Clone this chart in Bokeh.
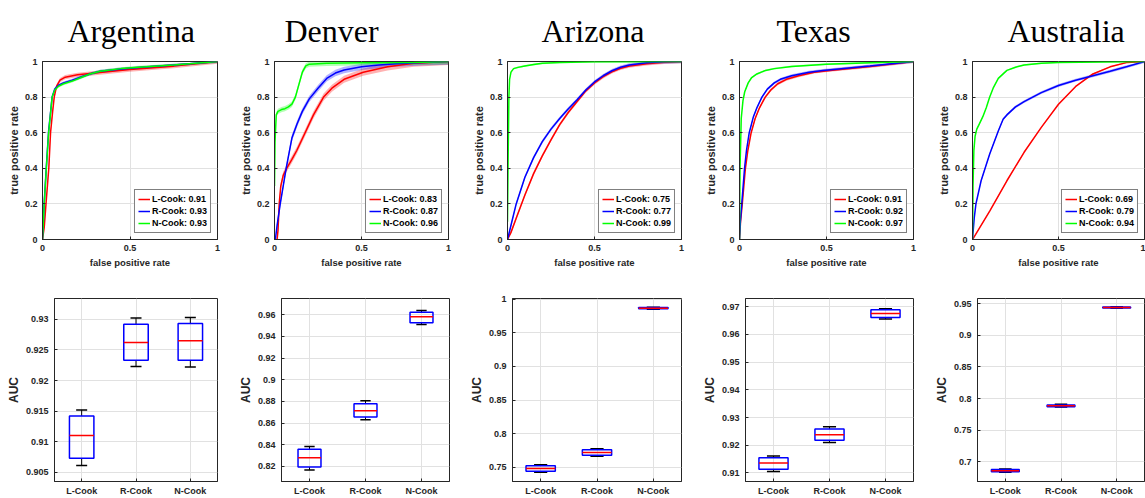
import numpy as np
from bokeh.plotting import figure
from bokeh.layouts import row, column
from bokeh.models import Range1d, FixedTicker, Legend, LegendItem, Title
from bokeh.embed import file_html
from bokeh.resources import INLINE

# ---------------- data ----------------
datasets = ["Argentina", "Denver", "Arizona", "Texas", "Australia"]
methods = ["L-Cook", "R-Cook", "N-Cook"]
legend_auc = {
    "Argentina": [0.91, 0.93, 0.93],
    "Denver": [0.83, 0.87, 0.96],
    "Arizona": [0.75, 0.77, 0.99],
    "Texas": [0.91, 0.92, 0.97],
    "Australia": [0.69, 0.79, 0.94],
}

# ROC curves (mean) : false positive rate / true positive rate
argentina_l_fpr = [0, 0.01, 0.02, 0.036, 0.046, 0.058, 0.067, 0.08, 0.1, 0.13, 0.2, 0.3, 0.5, 0.75, 1]
argentina_l_tpr = [0, 0.07, 0.2, 0.4, 0.6, 0.72, 0.8, 0.86, 0.895, 0.912, 0.925, 0.935, 0.955, 0.974, 1]
argentina_r_fpr = [0, 0.005, 0.01, 0.022, 0.035, 0.055, 0.07, 0.09, 0.12, 0.17, 0.22, 0.27, 0.33, 0.45, 0.55, 0.75, 1]
argentina_r_tpr = [0, 0.1, 0.21, 0.41, 0.61, 0.8, 0.845, 0.865, 0.88, 0.895, 0.913, 0.93, 0.945, 0.958, 0.966, 0.98, 1]
argentina_n_fpr = [0, 0.005, 0.01, 0.022, 0.035, 0.055, 0.07, 0.09, 0.12, 0.17, 0.22, 0.27, 0.33, 0.45, 0.55, 0.75, 1]
argentina_n_tpr = [0, 0.1, 0.2, 0.4, 0.6, 0.8, 0.84, 0.86, 0.875, 0.89, 0.91, 0.93, 0.945, 0.96, 0.968, 0.98, 1]

denver_l_fpr = [0.015, 0.02, 0.027, 0.036, 0.05, 0.07, 0.1, 0.128, 0.176, 0.224, 0.282, 0.33, 0.4, 0.51, 0.65, 0.8, 1]
denver_l_tpr = [0, 0.05, 0.2, 0.3, 0.36, 0.4, 0.45, 0.5, 0.6, 0.7, 0.8, 0.85, 0.9, 0.94, 0.97, 0.99, 1]
denver_r_fpr = [0.005, 0.015, 0.033, 0.05, 0.067, 0.1, 0.13, 0.16, 0.2, 0.25, 0.3, 0.35, 0.4, 0.5, 0.6, 0.7, 0.85, 1]
denver_r_tpr = [0, 0.08, 0.2, 0.3, 0.4, 0.57, 0.65, 0.72, 0.79, 0.85, 0.905, 0.935, 0.952, 0.97, 0.98, 0.988, 0.995, 1]
denver_n_fpr = [0, 0.003, 0.01, 0.02, 0.04, 0.06, 0.08, 0.1, 0.12, 0.14, 0.16, 0.18, 0.2, 0.3, 0.5, 0.8, 1]
denver_n_tpr = [0.3, 0.55, 0.7, 0.72, 0.73, 0.735, 0.745, 0.76, 0.8, 0.87, 0.94, 0.975, 0.985, 0.99, 0.993, 0.995, 1]

arizona_l_fpr = [0, 0.02, 0.05, 0.1, 0.15, 0.2, 0.25, 0.3, 0.35, 0.4, 0.45, 0.5, 0.55, 0.6, 0.65, 0.7, 0.8, 0.9, 1]
arizona_l_tpr = [0, 0.04, 0.12, 0.25, 0.37, 0.47, 0.56, 0.645, 0.715, 0.775, 0.835, 0.88, 0.915, 0.942, 0.962, 0.975, 0.988, 0.996, 1]
arizona_r_fpr = [0, 0.02, 0.05, 0.1, 0.15, 0.2, 0.25, 0.3, 0.35, 0.4, 0.45, 0.5, 0.55, 0.6, 0.65, 0.7, 0.8, 0.9, 1]
arizona_r_tpr = [0, 0.08, 0.2, 0.35, 0.46, 0.55, 0.62, 0.68, 0.735, 0.785, 0.84, 0.885, 0.92, 0.948, 0.968, 0.98, 0.993, 0.998, 1]
arizona_n_fpr = [0, 0.003, 0.008, 0.012, 0.02, 0.035, 0.06, 0.1, 0.15, 0.2, 0.3, 0.5, 1]
arizona_n_tpr = [0.1, 0.4, 0.8, 0.9, 0.94, 0.96, 0.967, 0.975, 0.983, 0.99, 0.995, 0.998, 1]

texas_l_fpr = [0, 0.006, 0.016, 0.034, 0.048, 0.067, 0.09, 0.115, 0.148, 0.18, 0.22, 0.27, 0.34, 0.43, 0.52, 0.75, 1]
texas_l_tpr = [0, 0.1, 0.2, 0.4, 0.5, 0.6, 0.68, 0.74, 0.8, 0.84, 0.875, 0.9, 0.92, 0.94, 0.95, 0.972, 1]
texas_r_fpr = [0, 0.005, 0.013, 0.029, 0.04, 0.056, 0.08, 0.1, 0.129, 0.16, 0.2, 0.235, 0.3, 0.4, 0.48, 0.75, 1]
texas_r_tpr = [0, 0.1, 0.2, 0.4, 0.5, 0.6, 0.69, 0.74, 0.8, 0.845, 0.88, 0.9, 0.92, 0.94, 0.95, 0.975, 1]
texas_n_fpr = [0, 0.003, 0.01, 0.02, 0.03, 0.05, 0.07, 0.1, 0.15, 0.2, 0.3, 0.5, 0.75, 1]
texas_n_tpr = [0, 0.4, 0.68, 0.78, 0.83, 0.88, 0.91, 0.93, 0.95, 0.96, 0.972, 0.985, 0.993, 1]

australia_l_fpr = [0, 0.1, 0.2, 0.3, 0.4, 0.5, 0.6, 0.7, 0.8, 0.9, 1]
australia_l_tpr = [0, 0.16, 0.33, 0.49, 0.63, 0.76, 0.86, 0.93, 0.97, 0.995, 1]
australia_r_fpr = [0, 0.01, 0.02, 0.05, 0.1, 0.15, 0.178, 0.2, 0.25, 0.3, 0.4, 0.5, 0.6, 0.7, 0.8, 0.9, 1]
australia_r_tpr = [0, 0.12, 0.2, 0.33, 0.48, 0.61, 0.676, 0.7, 0.745, 0.775, 0.825, 0.865, 0.895, 0.92, 0.945, 0.972, 1]
australia_n_fpr = [0, 0.003, 0.008, 0.015, 0.025, 0.04, 0.06, 0.08, 0.1, 0.12, 0.15, 0.2, 0.25, 0.3, 0.4, 0.5, 1]
australia_n_tpr = [0, 0.3, 0.5, 0.58, 0.62, 0.65, 0.69, 0.74, 0.8, 0.85, 0.905, 0.95, 0.968, 0.98, 0.99, 0.995, 1]

# half width of the shaded spread around each mean ROC curve
roc_spread = {
    "Argentina": [0.012, 0.008, 0.008],
    "Denver": [0.02, 0.018, 0.015],
    "Arizona": [0.01, 0.01, 0.005],
    "Texas": [0.008, 0.008, 0.005],
    "Australia": [0.004, 0.008, 0.004],
}

roc_curves = {
    "Argentina": [(argentina_l_fpr, argentina_l_tpr), (argentina_r_fpr, argentina_r_tpr), (argentina_n_fpr, argentina_n_tpr)],
    "Denver": [(denver_l_fpr, denver_l_tpr), (denver_r_fpr, denver_r_tpr), (denver_n_fpr, denver_n_tpr)],
    "Arizona": [(arizona_l_fpr, arizona_l_tpr), (arizona_r_fpr, arizona_r_tpr), (arizona_n_fpr, arizona_n_tpr)],
    "Texas": [(texas_l_fpr, texas_l_tpr), (texas_r_fpr, texas_r_tpr), (texas_n_fpr, texas_n_tpr)],
    "Australia": [(australia_l_fpr, australia_l_tpr), (australia_r_fpr, australia_r_tpr), (australia_n_fpr, australia_n_tpr)],
}

# AUC box statistics per method: [whisker low, q1, median, q3, whisker high]
argentina_auc_box = [[0.9061, 0.9073, 0.9110, 0.9142, 0.9152],
                     [0.9223, 0.9233, 0.9262, 0.9292, 0.9302],
                     [0.9222, 0.9233, 0.9265, 0.9293, 0.9303]]
denver_auc_box = [[0.8166, 0.8194, 0.8280, 0.8357, 0.8383],
                  [0.8631, 0.8655, 0.8714, 0.8778, 0.8806],
                  [0.9511, 0.9527, 0.9582, 0.9624, 0.9640]]
arizona_auc_box = [[0.7426, 0.7441, 0.7485, 0.7525, 0.7540],
                   [0.7667, 0.7680, 0.7722, 0.7762, 0.7775],
                   [0.9852, 0.9857, 0.9866, 0.9875, 0.9880]]
texas_auc_box = [[0.9105, 0.9113, 0.9136, 0.9155, 0.9161],
                 [0.9210, 0.9218, 0.9238, 0.9259, 0.9267],
                 [0.9656, 0.9661, 0.9676, 0.9689, 0.9693]]
australia_auc_box = [[0.6835, 0.6845, 0.6860, 0.6878, 0.6888],
                     [0.7865, 0.7872, 0.7885, 0.7900, 0.7908],
                     [0.9425, 0.9430, 0.9437, 0.9444, 0.9450]]
auc_boxes = {"Argentina": argentina_auc_box, "Denver": denver_auc_box, "Arizona": arizona_auc_box,
             "Texas": texas_auc_box, "Australia": australia_auc_box}

auc_ticks = {
    "Argentina": [0.905, 0.91, 0.915, 0.92, 0.925, 0.93],
    "Denver": [0.82, 0.84, 0.86, 0.88, 0.9, 0.92, 0.94, 0.96],
    "Arizona": [0.75, 0.8, 0.85, 0.9, 0.95, 1.0],
    "Texas": [0.91, 0.92, 0.93, 0.94, 0.95, 0.96, 0.97],
    "Australia": [0.7, 0.75, 0.8, 0.85, 0.9, 0.95],
}
auc_range = {
    "Argentina": (0.9035, 0.9334),
    "Denver": (0.806, 0.975),
    "Arizona": (0.729, 1.001),
    "Texas": (0.9069, 0.973),
    "Australia": (0.669, 0.958),
}
roc_x_ticks = [0, 0.5, 1]
roc_y_ticks = [0, 0.2, 0.4, 0.6, 0.8, 1]

# ---------------- styling / layout ----------------
colors = ["#ff0000", "#0000ff", "#00ff00"]
fig_widths = [228, 232, 232, 233, 220]
roc_bl = [42, 46, 47, 47, 47]
roc_br = [11, 12, 11, 12, 1]
box_bl = [54, 53, 52, 53, 52]
box_br = [11, 11, 11, 12, 1]
box_w = [0.45, 0.41, 0.52, 0.52, 0.5]
title_offset = [25, 10, 34, 37, 35]
AX = "#262626"
GRID = "#e1e1e1"
FONT = "Liberation Sans"


def fmt(v):
    return ("%g" % v)


def style_axes(p, xt, yt, xover, yover, tick_font="9px"):
    for ax in p.below + p.left:
        ax.major_tick_in = 3
        ax.major_tick_out = 0
        ax.minor_tick_line_color = None
        ax.axis_line_color = AX
        ax.major_tick_line_color = AX
        ax.major_label_text_color = AX
        ax.major_label_text_font = FONT
        ax.major_label_text_font_style = "bold"
        ax.major_label_text_font_size = tick_font
        ax.axis_label_text_font = FONT
        ax.axis_label_text_font_style = "bold"
        ax.axis_label_text_color = AX
    p.below[0].ticker = FixedTicker(ticks=xt)
    p.left[0].ticker = FixedTicker(ticks=yt)
    p.below[0].major_label_overrides = xover
    p.left[0].major_label_overrides = yover
    p.xgrid.ticker = FixedTicker(ticks=xt)
    p.ygrid.ticker = FixedTicker(ticks=yt)
    for g in (p.xgrid, p.ygrid):
        g.grid_line_color = GRID
        g.grid_line_width = 1
    p.outline_line_color = AX
    p.outline_line_alpha = 1


roc_figs = []
box_figs = []
for i, d in enumerate(datasets):
    p = figure(width=fig_widths[i], height=290, x_range=Range1d(0, 1), y_range=Range1d(0, 1),
               output_backend="svg", toolbar_location=None,
               min_border_left=roc_bl[i], min_border_right=roc_br[i],
               min_border_top=61, min_border_bottom=51)
    p.title = Title(text=d, text_font="Liberation Serif", text_font_size="32px",
                    text_font_style="normal", text_color="black", align="left",
                    vertical_align="top", offset=title_offset[i], standoff=22)
    style_axes(p, roc_x_ticks, roc_y_ticks,
               {t: fmt(t) for t in roc_x_ticks}, {t: fmt(t) for t in roc_y_ticks})
    xa, ya = p.below[0], p.left[0]
    xa.axis_label = "false positive rate"
    ya.axis_label = "true positive rate"
    xa.axis_label_text_font_size = "9.5px"
    ya.axis_label_text_font_size = "11px"
    xa.major_label_standoff = 5
    xa.axis_label_standoff = 3
    ya.major_label_standoff = 5
    ya.axis_label_standoff = 2
    items = []
    for k, (fpr, tpr) in enumerate(roc_curves[d]):
        fpr = np.array(fpr, dtype=float)
        tpr = np.array(tpr, dtype=float)
        s = roc_spread[d][k]
        p.varea(x=fpr, y1=np.clip(tpr - s, 0, 1), y2=np.clip(tpr + s, 0, 1),
                fill_color=colors[k], fill_alpha=0.3)
    for k, (fpr, tpr) in enumerate(roc_curves[d]):
        r = p.line(fpr, tpr, line_color=colors[k], line_width=1.5)
        items.append(LegendItem(label="%s: %.2f" % (methods[k], legend_auc[d][k]), renderers=[r]))
    leg = Legend(items=items, location="bottom_right", margin=6, padding=3, spacing=0,
                 label_height=12, glyph_height=12, glyph_width=12, label_standoff=2,
                 label_text_font=FONT, label_text_font_style="bold",
                 label_text_font_size="9px", label_text_color="black",
                 border_line_color="black", border_line_width=1,
                 background_fill_color="white", background_fill_alpha=1)
    p.add_layout(leg)
    roc_figs.append(p)

    lo, hi = auc_range[d]
    b = figure(width=fig_widths[i], height=208, x_range=Range1d(0.5, 3.5), y_range=Range1d(lo, hi),
               output_backend="svg", toolbar_location=None,
               min_border_left=box_bl[i], min_border_right=box_br[i],
               min_border_top=8, min_border_bottom=15)
    style_axes(b, [1, 2, 3], auc_ticks[d],
               {j + 1: m for j, m in enumerate(methods)}, {t: fmt(t) for t in auc_ticks[d]})
    b.left[0].axis_label = "AUC"
    b.left[0].axis_label_text_font_size = "12px"
    b.left[0].major_label_standoff = 6
    b.left[0].axis_label_standoff = 2
    b.below[0].major_label_standoff = 4
    stats = np.array(auc_boxes[d])
    pos = np.array([1, 2, 3], dtype=float)
    w = box_w[i]
    cw = w * 0.45
    b.segment(x0=pos, y0=stats[:, 3], x1=pos, y1=stats[:, 4], line_color="black", line_width=1)
    b.segment(x0=pos, y0=stats[:, 0], x1=pos, y1=stats[:, 1], line_color="black", line_width=1)
    b.segment(x0=pos - cw / 2, y0=stats[:, 4], x1=pos + cw / 2, y1=stats[:, 4], line_color="black", line_width=1.5)
    b.segment(x0=pos - cw / 2, y0=stats[:, 0], x1=pos + cw / 2, y1=stats[:, 0], line_color="black", line_width=1.5)
    b.vbar(x=pos, width=w, bottom=stats[:, 1], top=stats[:, 3], fill_color=None,
           line_color="#0000ff", line_width=1.5)
    b.segment(x0=pos - w / 2, y0=stats[:, 2], x1=pos + w / 2, y1=stats[:, 2], line_color="#ff0000", line_width=1.5)
    box_figs.append(b)

layout = column(row(*roc_figs, spacing=0), row(*box_figs, spacing=0), spacing=0)
open("out.html", "w").write(file_html(layout, INLINE))
